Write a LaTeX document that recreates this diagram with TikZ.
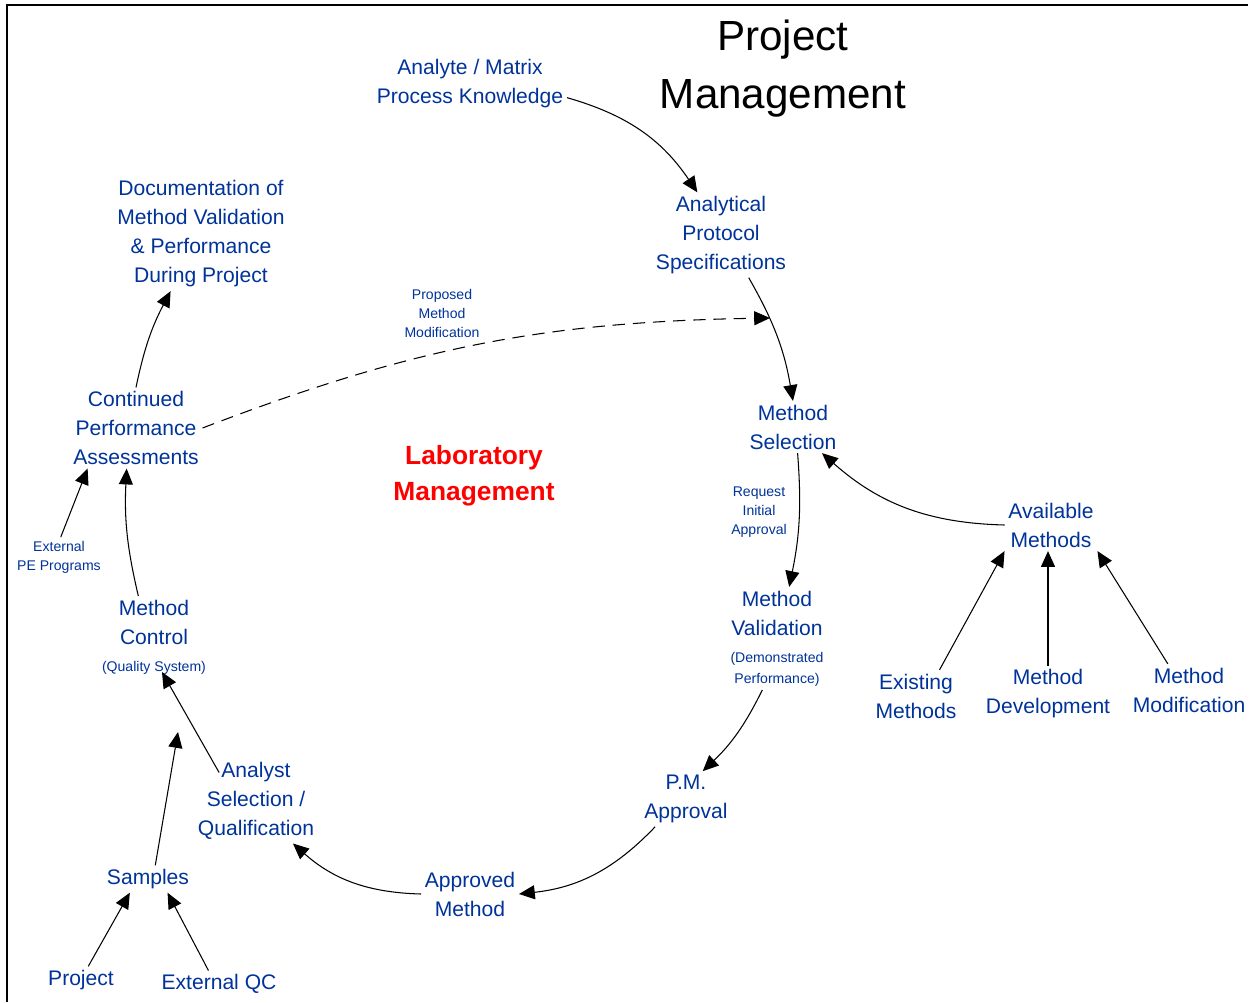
\documentclass[tikz,border=0pt]{standalone}
\usepackage{fontspec}
\setmainfont{Liberation Sans}
\usetikzlibrary{arrows.meta, calc}

\definecolor{labblue}{RGB}{0,51,153}
\definecolor{labred}{RGB}{255,0,0}

\begin{document}
\begin{tikzpicture}[x = 0.02cm, y = -0.02cm,
	lbl/.style = {text = labblue, font = \fontsize{12}{16.5}\selectfont, align = center, inner sep = 2pt},
	note/.style = {text = labblue, font = \fontsize{8}{10.8}\selectfont, align = center, inner sep = 2pt},
	flow/.style = {-{Triangle[length = 9pt, width = 8pt]}, line width = 0.6pt}]

	% Page frame (pixel coordinates, y downwards)

	\useasboundingbox (0, 0) rectangle (1252, 1002);
	\draw [line width = 1.1pt] (7, 1002) -- (7, 5) -- (1248, 5);

	% Headings

	\node [font = \fontsize{24}{33}\selectfont, align = center] (pm) at (783, 69) {Project\\Management};
	\node [text = labred, font = \bfseries\fontsize{15}{20.5}\selectfont, align = center] (lab) at (474, 476) {Laboratory\\Management};

	% Main cycle

	\node [lbl] (ana) at (470, 84) {Analyte / Matrix\\Process Knowledge};
	\node [lbl] (aps) at (721, 235) {Analytical\\Protocol\\Specifications};
	\node [lbl] (msel) at (793, 427) {Method\\Selection};
	\node [lbl] (mval) at (777, 613) {Method\\Validation};
	\node [note, font = \fontsize{8}{12}\selectfont] (mvnote) at (777, 669) {(Demonstrated\\Performance)};
	\node [lbl] (pma) at (686, 799) {P.M.\\Approval};
	\node [lbl] (apm) at (470, 894) {Approved\\Method};
	\node [lbl] (asq) at (256, 801) {Analyst\\Selection /\\Qualification};
	\node [lbl] (mctl) at (154, 622) {Method\\Control};
	\node [note] (qsys) at (154, 668) {(Quality System)};
	\node [lbl] (cpa) at (136, 428) {Continued\\Performance\\Assessments};
	\node [lbl] (doc) at (201, 234) {Documentation of\\Method Validation\\\& Performance\\During Project};

	% Method sources

	\node [lbl] (avm) at (1051, 525) {Available\\Methods};
	\node [lbl] (exm) at (916, 696) {Existing\\Methods};
	\node [lbl] (mdev) at (1048, 694) {Method\\Development};
	\node [lbl] (mmod) at (1189, 690) {Method\\Modification};

	% Sample sources

	\node [lbl] (smp) at (148, 879) {Samples};
	\node [lbl] (prj) at (81, 980) {Project};
	\node [lbl] (eqc) at (219, 984) {External QC};

	% Small labels

	\node [note] (ria) at (759, 512) {Request\\Initial\\Approval};
	\node [note] (epe) at (59, 557) {External\\PE Programs};
	\node [note] (pmm) at (442, 313) {Proposed\\Method\\Modification};

	% Free arrow ends

	\coordinate (mcin) at (178, 732);
	\coordinate (pmin) at (770, 318);

	% Arrows round the cycle

	\draw [flow] (ana.-8) to [bend left = 20] (aps.119);
	\draw [flow] (aps.-57) to [bend left = 10] (msel.north);
	\draw [flow] (msel.-80) to [bend left = 8] (mval.65);
	\draw [flow] (mvnote.-125) to [bend left = 10] (pma.59);
	\draw [flow] (pma.-138) to [bend left = 20] (apm.east);
	\draw [flow] (apm.west) to [bend left = 20] (asq.-49);
	\draw [flow] ($(asq.north west) + (25, 14)$) -- ($(qsys) + (8, 4)$);
	\draw [flow] (mctl.121) to [bend left = 8] (cpa.-103);
	\draw [flow] (cpa.north) to [bend left = 8] (doc.-118);

	% Feeding arrows

	\draw [flow] (avm.west) to [bend left = 20] (msel.-42);
	\draw [flow] (exm.48) -- (avm.south west);
	\draw [flow] (mdev.north) -- (mdev.north |- avm.south);
	\draw [flow] (mmod.129) -- (avm.south east);
	\draw [flow] (smp.62) -- (mcin);
	\draw [flow] (prj.62) -- (smp.-143);
	\draw [flow] (eqc.128) -- (smp.-35);
	\draw [flow] (epe.85) -- (cpa.-140);

	% Proposed modification (dashed)

	\draw [flow, dash pattern = on 7pt off 4.5pt] (cpa.east) to [bend left = 10] (pmin);

\end{tikzpicture}
\end{document}
